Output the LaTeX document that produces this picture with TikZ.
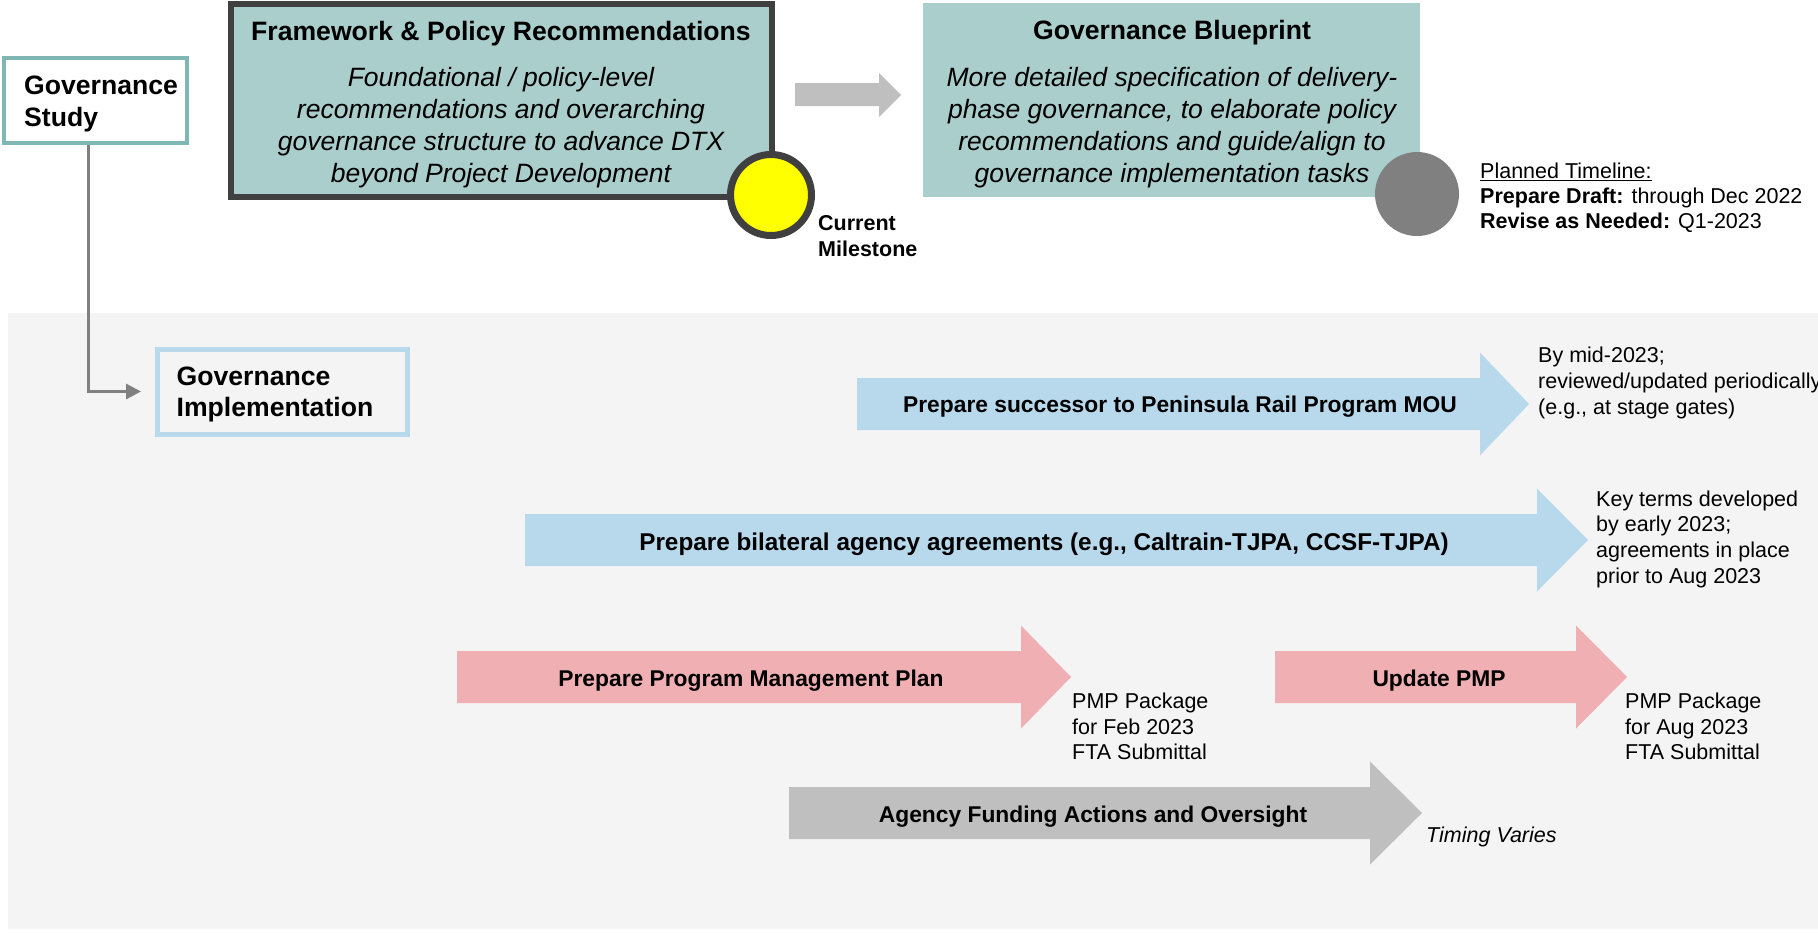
\documentclass[tikz,border=0pt]{standalone}
\usepackage{fontspec}
\setmainfont{Liberation Sans}
\usetikzlibrary{arrows.meta}
\definecolor{cTealFill}{RGB}{170,206,204}
\definecolor{cTealLine}{RGB}{127,183,180}
\definecolor{cDark}{RGB}{64,64,64}
\definecolor{cBlue}{RGB}{184,217,236}
\definecolor{cPink}{RGB}{239,175,179}
\definecolor{cGrayArrow}{RGB}{191,191,191}
\definecolor{cPanel}{RGB}{244,244,244}
\definecolor{cConn}{RGB}{128,128,128}
\definecolor{cYellow}{RGB}{255,255,0}
\newcommand\blockarrow[5]{\fill[#5] (#1,#4-26) -- (#2,#4-26) -- (#2,#4-51.5) -- (#3,#4) -- (#2,#4+51.5) -- (#2,#4+26) -- (#1,#4+26) -- cycle;}
\begin{document}
\begin{tikzpicture}[x=1pt,y=-1pt,
  titletxt/.style={font=\bfseries\fontsize{26.6}{30}\selectfont, inner sep=0},
  bodytxt/.style={font=\itshape\fontsize{26.5}{32}\selectfont, align=center, inner sep=0},
  boxtxt/.style={font=\bfseries\fontsize{26.6}{32.5}\selectfont, align=left},
  lbl/.style={font=\fontsize{21.5}{25.7}\selectfont, align=left, anchor=west, inner sep=0},
  arrtxt/.style={font=\bfseries\fontsize{22.8}{27}\selectfont, inner sep=0},
  conn/.style={draw=cConn, line width=3pt, -{Triangle[length=15pt,width=15pt]}}
]
\useasboundingbox (0,0) rectangle (1818,932);
% panel
\fill[cPanel] (8,313) rectangle (1818,929);

% Governance Study
\node[draw=cTealLine, line width=4.5pt, fill=white, minimum width=183pt, minimum height=85pt,
      text width=144pt, boxtxt] (gs) at (95.5,100.5) {};
\node[boxtxt, inner sep=0, anchor=west] (gstxt) at (24,104) {Governance\\Study};

% Framework box
\node[draw=cDark, line width=6pt, fill=cTealFill, minimum width=541pt, minimum height=193pt, inner sep=0] (fw) at (501.5,100.5) {};
\node[titletxt] (fwtitle) at (501,33.5) {Framework \& Policy Recommendations};
\node[bodytxt] (fwbody) at (501,127.5) {Foundational / policy-level\\recommendations and overarching\\governance structure to advance DTX\\beyond Project Development};
\node[circle, draw=cDark, line width=7pt, fill=cYellow, minimum size=81pt, inner sep=0] (cur) at (771,195) {};
\node[font=\bfseries\fontsize{21.5}{26.5}\selectfont, align=left, anchor=west, inner sep=0] (curtxt) at (818,236) {Current\\Milestone};

% top gray arrow
\fill[cGrayArrow] (795,83) -- (879,83) -- (879,73) -- (901,95) -- (879,117) -- (879,106) -- (795,106) -- cycle;

% Blueprint
\node[fill=cTealFill, minimum width=497pt, minimum height=194pt, inner sep=0] (bp) at (1171.5,100) {};
\node[titletxt] (bptitle) at (1172,32.5) {Governance Blueprint};
\node[bodytxt] (bpbody) at (1172,127.5) {More detailed specification of delivery-\\phase governance, to elaborate policy\\recommendations and guide/align to\\governance implementation tasks};
\node[circle, fill=cConn, minimum size=84pt, inner sep=0] (gc) at (1417,194) {};
\node[lbl, font=\fontsize{21.5}{25}\selectfont] (plan) at (1480,198) {\underline{Planned Timeline:}\\\textbf{Prepare Draft:} through Dec 2022\\\textbf{Revise as Needed:} Q1-2023};

% Governance Implementation
\node[draw=cBlue, line width=5pt, fill=cPanel, minimum width=249.5pt, minimum height=85pt,
      text width=212.5pt] (gi) at (282.25,391.5) {};
\node[boxtxt, inner sep=0, anchor=west, font=\bfseries\fontsize{26.6}{31.5}\selectfont] (gitxt) at (176.5,394.5) {Governance\\Implementation};
\draw[conn] ([xshift=-7.5pt]gs.south) |- ([xshift=-14pt]gi.west);

% block arrows
\blockarrow{857}{1480}{1529}{404}{cBlue}
\node[arrtxt] (a1) at (1180,407) {Prepare successor to Peninsula Rail Program MOU};
\node[lbl] (l1) at (1538,383) {By mid-2023;\\reviewed/updated periodically\\(e.g., at stage gates)};

\blockarrow{525}{1537}{1588}{540}{cBlue}
\node[arrtxt, font=\bfseries\fontsize{24.3}{28}\selectfont] (a2) at (1044,544) {Prepare bilateral agency agreements (e.g., Caltrain-TJPA, CCSF-TJPA)};
\node[lbl] (l2) at (1596,539) {Key terms developed\\by early 2023;\\agreements in place\\prior to Aug 2023};

\blockarrow{457}{1021}{1071}{677}{cPink}
\node[arrtxt] (a3) at (751,681) {Prepare Program Management Plan};
\node[lbl] (l3) at (1072,726.5) {PMP Package\\for Feb 2023\\FTA Submittal};

\blockarrow{1275}{1576}{1627}{677}{cPink}
\node[arrtxt] (a4) at (1439,681) {Update PMP};
\node[lbl] (l4) at (1625,726.5) {PMP Package\\for Aug 2023\\FTA Submittal};

\blockarrow{789}{1370}{1422}{813}{cGrayArrow}
\node[arrtxt] (a5) at (1093,817) {Agency Funding Actions and Oversight};
\node[lbl, font=\itshape\fontsize{21.5}{25.7}\selectfont] (l5) at (1426,837) {Timing Varies};
\end{tikzpicture}
\end{document}
